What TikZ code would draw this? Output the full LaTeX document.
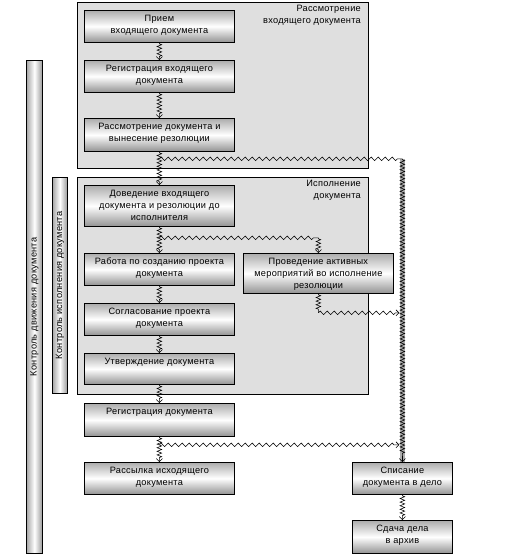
\documentclass[tikz,border=0pt]{standalone}
\usepackage{fontspec}
\setmainfont{Liberation Sans}[LetterSpace=3]
\usetikzlibrary{decorations.pathmorphing,arrows.meta,calc}
\begin{document}
\begin{tikzpicture}[x=1pt,y=-1pt,
  font=\fontsize{9.2}{12}\selectfont,
  panel/.style={draw=black, line width=0.7pt, fill=gray!25},
  pbox/.style={draw=black, line width=0.8pt, anchor=north west, inner sep=0pt,
     top color=gray!65, bottom color=gray!85, middle color=white, minimum width=#1},
  pbox/.default=150pt,
  vbar/.style={draw=black, line width=0.8pt, anchor=north west, inner sep=0pt,
     left color=gray!70, right color=gray!80, middle color=white},
  lbl/.style={anchor=north, align=center, inner sep=0pt, yshift=-4.5pt},
  plbl/.style={anchor=north east, align=right, inner sep=0pt},
  band/.style={draw=gray!65, line width=4.5pt},
  zzv/.style={decorate, decoration={zigzag, amplitude=2.3pt, segment length=3.6pt, pre length=1pt, post length=3pt}, draw=black, line width=0.55pt},
  zzh/.style={decorate, decoration={zigzag, amplitude=1.8pt, segment length=7pt, pre length=0pt, post length=3pt}, draw=black, line width=0.55pt},
  tip/.style={-{Straight Barb[length=3pt,width=6pt,line width=0.6pt]}}
]
\useasboundingbox (0,0) rectangle (512,558);
% panels
\node[panel, anchor=north west, minimum width=291pt, minimum height=166pt, inner sep=0pt] (P1) at (77,2) {};
\node[panel, anchor=north west, minimum width=291pt, minimum height=217pt, inner sep=0pt] (P2) at (77,177) {};
\node[plbl] (P1t) at (361,5) {Рассмотрение\\входящего документа};
\node[plbl] (P2t) at (361,180) {Исполнение\\документа};
% left bars
\node[vbar, minimum width=16pt, minimum height=493pt] (L1) at (26,60) {};
\node[rotate=90, inner sep=0pt] (L1t) at (L1.center) {Контроль движения документа};
\node[vbar, minimum width=15pt, minimum height=216pt] (L2) at (52,177) {};
\node[rotate=90, inner sep=0pt] (L2t) at (L2.center) {Контроль исполнения документа};
% boxes
\node[pbox, minimum height=32pt, label={[lbl]north:Прием\\входящего документа}] (A) at (84,10) {};
\node[pbox, minimum height=32pt, label={[lbl]north:Регистрация входящего\\документа}] (B) at (84,60) {};
\node[pbox, minimum height=33pt, label={[lbl]north:Рассмотрение документа и\\вынесение резолюции}] (C) at (84,118) {};
\node[pbox, minimum height=41pt, label={[lbl]north:Доведение входящего\\документа и резолюции до\\исполнителя}] (D) at (84,185) {};
\node[pbox, minimum height=32pt, label={[lbl]north:Работа по созданию проекта\\документа}] (E) at (84,253) {};
\node[pbox, minimum height=32pt, label={[lbl]north:Согласование проекта\\документа}] (F) at (84,303) {};
\node[pbox, minimum height=31pt, label={[lbl]north:Утверждение документа}] (G) at (84,353) {};
\node[pbox, minimum height=33pt, label={[lbl]north:Регистрация документа}] (H) at (84,403) {};
\node[pbox, minimum height=32pt, label={[lbl]north:Рассылка исходящего\\документа}] (I) at (84,462) {};
\node[pbox, minimum height=40pt, label={[lbl]north:Проведение активных\\мероприятий во исполнение\\резолюции}] (P) at (243,253) {};
\node[pbox=100pt, minimum height=32pt, label={[lbl]north:Списание\\документа в дело}] (S) at (352,462) {};
\node[pbox=100pt, minimum height=33pt, label={[lbl]north:Сдача дела\\в архив}] (T) at (352,520) {};
% branch coordinates
\coordinate (c1) at ($(C.south)+(0,7)$);
\coordinate (c1r) at (c1 -| S.north);
\coordinate (d1) at ($(D.south)+(0,11)$);
\coordinate (d1r) at (d1 -| P.north);
\coordinate (p1) at ($(P.south)+(0,19)$);
\coordinate (p1r) at ($(p1 -| S.north)+(-3,0)$);
\coordinate (h1) at ($(H.south)+(0,8)$);
\coordinate (h1r) at ($(h1 -| S.north)+(-3,0)$);
% long vertical band
\draw[band] (c1r) -- (S.north);
\draw[zzv] (c1r) -- ($(S.north)+(0,-4)$);
\draw[tip, line width=0.6pt] ($(S.north)+(0,-6)$) -- (S.north);
% connectors
\draw[zzv, tip] (A.south) -- (B.north);
\draw[zzv, tip] (B.south) -- (C.north);
\draw[zzv, tip] (C.south) -- (D.north);
\draw[zzh] (c1) -- (c1r);
\draw[zzv, tip] (D.south) -- (E.north);
\draw[zzh] (d1) -- (d1r);
\draw[zzv, tip] (d1r) -- (P.north);
\draw[zzv, tip] (E.south) -- (F.north);
\draw[zzv, tip] (F.south) -- (G.north);
\draw[zzv, tip] (G.south) -- (H.north);
\draw[zzv] (P.south) -- (p1);
\draw[zzh, tip] (p1) -- (p1r);
\draw[zzv, tip] (H.south) -- (I.north);
\draw[zzh, tip] (h1) -- (h1r);
\draw[zzv, tip] (S.south) -- (T.north);
\end{tikzpicture}
\end{document}
